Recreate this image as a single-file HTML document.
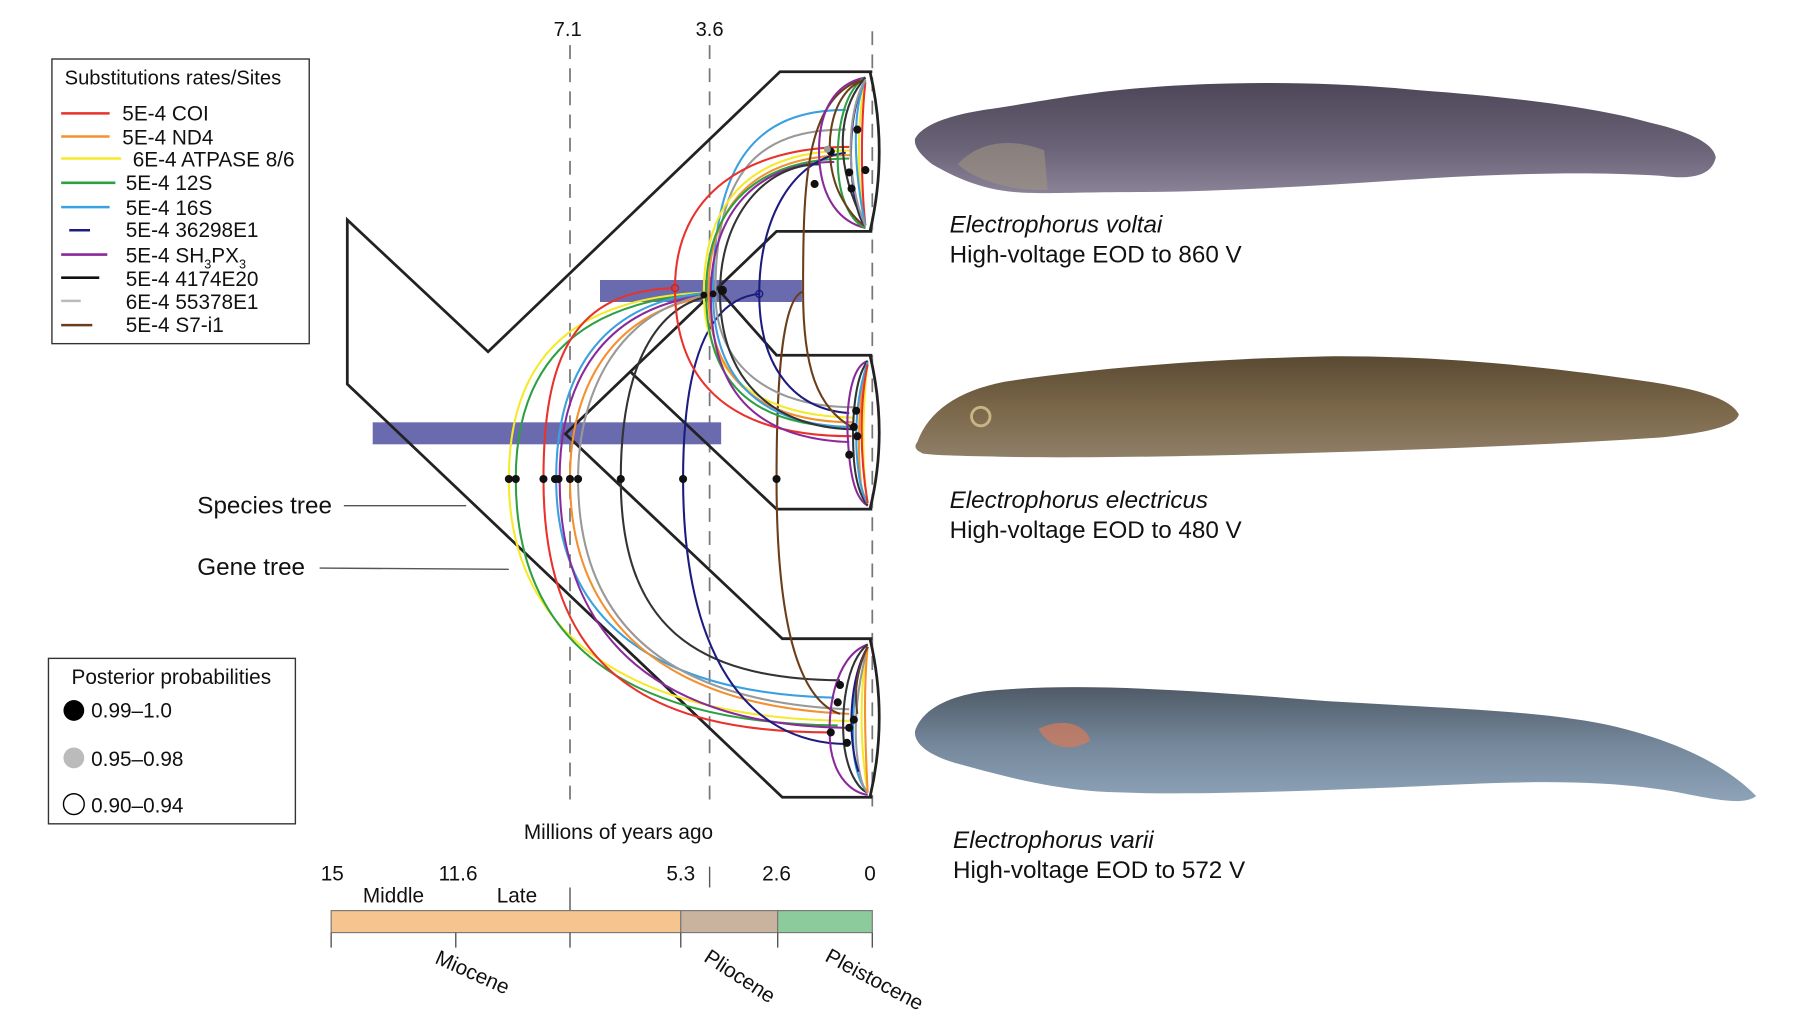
<!DOCTYPE html>
<html><head><meta charset="utf-8"><style>
html,body{margin:0;padding:0;background:#fff}
svg{display:block}
text{font-family:"Liberation Sans",sans-serif;fill:#111}
</style></head><body>
<svg width="1800" height="1024" viewBox="0 0 1560 885" preserveAspectRatio="none" xmlns="http://www.w3.org/2000/svg">
<defs>
<linearGradient id="gv" x1="0" y1="0" x2="0" y2="1"><stop offset="0" stop-color="#4d4658"/><stop offset="0.6" stop-color="#6b6478"/><stop offset="1" stop-color="#8a8296"/></linearGradient>
<linearGradient id="ge" x1="0" y1="0" x2="0" y2="1"><stop offset="0" stop-color="#5a4a33"/><stop offset="0.5" stop-color="#7a6648"/><stop offset="1" stop-color="#8f7f68"/></linearGradient>
<linearGradient id="gr" x1="0" y1="0" x2="0" y2="1"><stop offset="0" stop-color="#4f5a66"/><stop offset="0.5" stop-color="#74879b"/><stop offset="1" stop-color="#8ea3b8"/></linearGradient>
</defs>
<g transform="translate(-2,-3)">
<!-- legend 1 -->
<rect x="47" y="54" width="223" height="246" fill="#fff" stroke="#333" stroke-width="1.2"/>
<text x="58" y="76" font-size="17.5">Substitutions rates/Sites</text>
<g stroke-width="2.2">
<line x1="55" y1="101" x2="97" y2="101" stroke="#e8322b"/>
<line x1="55" y1="121" x2="97" y2="121" stroke="#f39030"/>
<line x1="55" y1="140" x2="107" y2="140" stroke="#f5ea2a"/>
<line x1="55" y1="161" x2="102" y2="161" stroke="#2ea043"/>
<line x1="55" y1="182" x2="97" y2="182" stroke="#3aa0e0"/>
<line x1="62" y1="202" x2="80" y2="202" stroke="#1c1c80"/>
<line x1="55" y1="223" x2="95" y2="223" stroke="#8a2a9a"/>
<line x1="55" y1="243" x2="88" y2="243" stroke="#111"/>
<line x1="55" y1="263" x2="72" y2="263" stroke="#bbb"/>
<line x1="55" y1="284" x2="82" y2="284" stroke="#6a3e1a"/>
</g>
<g font-size="18">
<text x="108" y="107">5E-4 COI</text>
<text x="108" y="128">5E-4 ND4</text>
<text x="117" y="147">6E-4 ATPASE 8/6</text>
<text x="111" y="167">5E-4 12S</text>
<text x="111" y="189">5E-4 16S</text>
<text x="111" y="208">5E-4 36298E1</text>
<text x="111" y="230">5E-4 SH<tspan font-size="11" dy="5">3</tspan><tspan dy="-5">PX</tspan><tspan font-size="11" dy="5">3</tspan></text>
<text x="111" y="250">5E-4 4174E20</text>
<text x="111" y="270">6E-4 55378E1</text>
<text x="111" y="290">5E-4 S7-i1</text>
</g>

<!-- legend 2 -->
<rect x="44" y="572" width="214" height="143" fill="#fff" stroke="#333" stroke-width="1.2"/>
<text x="64" y="594" font-size="18">Posterior probabilities</text>
<circle cx="66" cy="617" r="9" fill="#000"/>
<circle cx="66" cy="658" r="9" fill="#bbb"/>
<circle cx="66" cy="698" r="9" fill="#fff" stroke="#000" stroke-width="1.2"/>
<g font-size="18"><text x="81" y="623">0.99–1.0</text><text x="81" y="665">0.95–0.98</text><text x="81" y="705">0.90–0.94</text></g>

<!-- labels -->
<text x="173" y="447" font-size="21">Species tree</text>
<line x1="300" y1="440" x2="406" y2="440" stroke="#555" stroke-width="1.2"/>
<text x="173" y="500" font-size="21">Gene tree</text>
<line x1="279" y1="494" x2="443" y2="495" stroke="#555" stroke-width="1.2"/>

<!-- dashed time lines -->
<g stroke="#777" stroke-width="1.5" stroke-dasharray="12,8">
<line x1="496" y1="42" x2="496" y2="700"/>
<line x1="617" y1="42" x2="617" y2="700"/>
<line x1="758" y1="30" x2="758" y2="700"/>
</g>
<text x="494" y="34" font-size="17.5" text-anchor="middle">7.1</text>
<text x="617" y="34" font-size="17.5" text-anchor="middle">3.6</text>

<!-- purple bars -->
<rect x="522" y="245" width="175" height="19" fill="#6a6aae"/>
<rect x="325" y="368" width="302" height="19" fill="#6a6aae"/>

<!-- species tree -->
<g fill="none" stroke="#222" stroke-width="2.4" stroke-linejoin="miter">
<path d="M758,65 L678,65 L425,307 L303,193 L303,335 L680,692 L758,692"/>
<path d="M758,203 L675,203 L492,378 L680,555 L758,555"/>
<path d="M548,324 L675,443 L758,443"/>
<path d="M627,256 L675,310 L758,310"/>
<path d="M756,65 Q772,134 756,203"/>
<path d="M756,310 Q772,377 756,443"/>
<path d="M756,555 Q772,623 756,692"/>
</g>

<!-- gene tree curves -->
<g fill="none" stroke-width="1.8">
<path d="M443,417 C443,320 490,262 610,256" stroke="#f5ea2a"/>
<path d="M449,417 C449,325 495,265 612,257" stroke="#2ea043"/>
<path d="M473,417 C473,310 500,254 587,252" stroke="#e8322b"/>
<path d="M484,417 C484,330 520,265 614,256" stroke="#3aa0e0"/>
<path d="M487,417 C487,332 525,268 616,258" stroke="#8a2a9a"/>
<path d="M496,417 C496,340 530,272 618,259" stroke="#f39030"/>
<path d="M503,417 C503,340 540,268 620,257" stroke="#999"/>
<path d="M540,417 C540,320 570,265 622,258" stroke="#333"/>
<path d="M594,417 C594,330 610,262 660,257" stroke="#1c1c80"/>
<path d="M675,417 C675,330 680,260 698,255" stroke="#6a3e1a"/>
<path d="M443,417 C443,560 560,625 740,626" stroke="#f5ea2a"/>
<path d="M449,417 C449,570 560,628 728,630" stroke="#2ea043"/>
<path d="M473,417 C473,580 560,636 722,636" stroke="#e8322b"/>
<path d="M484,417 C484,540 570,602 725,606" stroke="#3aa0e0"/>
<path d="M487,417 C487,560 580,630 735,632" stroke="#8a2a9a"/>
<path d="M496,417 C496,550 590,614 738,620" stroke="#f39030"/>
<path d="M503,417 C503,550 590,610 738,616" stroke="#999"/>
<path d="M540,417 C540,540 600,590 730,591" stroke="#333"/>
<path d="M594,417 C594,570 650,645 735,646" stroke="#1c1c80"/>
<path d="M675,417 C675,560 700,610 730,620" stroke="#6a3e1a"/>
<path d="M620,256 C620,140 660,98 735,98" stroke="#3aa0e0"/>
<path d="M622,256 C622,150 660,115 735,115" stroke="#999"/>
<path d="M587,252 C587,170 650,130 738,130" stroke="#e8322b"/>
<path d="M612,256 C612,170 660,133 740,133" stroke="#f5ea2a"/>
<path d="M616,256 C616,175 660,137 740,137" stroke="#f39030"/>
<path d="M614,256 C614,180 660,140 738,140" stroke="#2ea043"/>
<path d="M618,258 C618,185 660,143 725,143" stroke="#8a2a9a"/>
<path d="M626,256 C626,190 665,145 712,145" stroke="#333"/>
<path d="M660,257 C660,190 690,140 735,135" stroke="#1c1c80"/>
<path d="M698,255 C698,160 700,90 748,72" stroke="#6a3e1a"/>
<path d="M587,252 C587,330 630,380 740,380" stroke="#e8322b"/>
<path d="M612,256 C612,320 650,362 742,364" stroke="#f5ea2a"/>
<path d="M614,256 C614,330 650,372 740,372" stroke="#2ea043"/>
<path d="M616,256 C616,330 660,368 742,368" stroke="#f39030"/>
<path d="M620,256 C620,330 660,370 738,372" stroke="#3aa0e0"/>
<path d="M618,258 C618,340 655,382 738,385" stroke="#8a2a9a"/>
<path d="M622,256 C622,320 670,355 742,355" stroke="#999"/>
<path d="M626,256 C626,330 670,372 740,374" stroke="#333"/>
<path d="M660,257 C660,320 690,357 738,360" stroke="#1c1c80"/>
<path d="M698,255 C698,320 710,355 740,372" stroke="#6a3e1a"/>
<path d="M752,70 C725,75 710,100 712,140 C714,175 730,195 752,200" stroke="#8a2a9a"/>
<path d="M752,70 C735,80 728,110 728,140 C728,175 740,195 752,200" stroke="#2ea043"/>
<path d="M752,72 C742,90 738,120 740,150 C742,180 748,195 752,198" stroke="#1c1c80"/>
<path d="M752,72 C746,100 745,140 748,170 C749,190 752,198 752,198" stroke="#f5ea2a"/>
<path d="M752,74 C748,110 748,160 752,198" stroke="#e8322b"/>
<path d="M752,72 C720,80 712,140 732,175 C740,190 750,198 752,198" stroke="#6a3e1a"/>
<path d="M752,70 C730,95 722,140 752,198" stroke="#333"/>
<path d="M752,72 C740,100 742,150 752,198" stroke="#3aa0e0"/>
<path d="M752,72 C735,100 735,160 752,198" stroke="#999"/>
<path d="M754,315 C738,320 735,360 737,385 C739,420 745,435 754,440" stroke="#8a2a9a"/>
<path d="M754,315 C742,330 740,370 742,400 C744,425 750,435 754,440" stroke="#333"/>
<path d="M754,316 C746,340 745,390 748,420 C750,432 754,438 754,438" stroke="#f39030"/>
<path d="M754,316 C750,350 748,400 754,438" stroke="#f5ea2a"/>
<path d="M754,316 C744,345 742,380 746,410 C748,430 754,438 754,438" stroke="#3aa0e0"/>
<path d="M754,318 C748,345 746,390 754,438" stroke="#e8322b"/>
<path d="M754,560 C725,570 718,620 722,650 C726,675 740,688 754,690" stroke="#8a2a9a"/>
<path d="M754,560 C735,575 730,620 734,650 C738,675 748,686 754,688" stroke="#333"/>
<path d="M754,562 C742,585 740,625 742,655 C745,678 752,686 754,688" stroke="#3aa0e0"/>
<path d="M754,562 C748,590 746,640 754,688" stroke="#f5ea2a"/>
<path d="M754,562 C744,600 740,640 748,675 C750,684 754,688 754,688" stroke="#999"/>
<path d="M754,562 C750,600 752,650 754,688" stroke="#f39030"/>
<path d="M754,562 C738,590 736,640 746,670" stroke="#1c1c80"/>
<path d="M754,562 C745,580 742,600 745,620" stroke="#6a3e1a"/>
</g>

<g fill="#111">
<circle cx="443" cy="417" r="3.5"/><circle cx="449" cy="417" r="3.5"/><circle cx="473" cy="417" r="3.5"/>
<circle cx="483" cy="417" r="3.5"/><circle cx="486" cy="417" r="3.5"/><circle cx="496" cy="417" r="3.5"/>
<circle cx="503" cy="417" r="3.5"/><circle cx="540" cy="417" r="3.5"/><circle cx="594" cy="417" r="3.5"/>
<circle cx="675" cy="417" r="3.5"/>
<circle cx="628" cy="254" r="4"/><circle cx="620" cy="257" r="3"/><circle cx="612" cy="258" r="3"/>
<circle cx="745" cy="115" r="3.5"/><circle cx="722" cy="134" r="3.5"/><circle cx="738" cy="152" r="3.5"/><circle cx="752" cy="150" r="3.5"/><circle cx="740" cy="166" r="3.5"/><circle cx="708" cy="162" r="3.5"/>
<circle cx="744" cy="358" r="3.5"/><circle cx="742" cy="372" r="3.5"/><circle cx="745" cy="380" r="3.5"/><circle cx="738" cy="396" r="3.5"/>
<circle cx="730" cy="595" r="3.5"/><circle cx="728" cy="610" r="3.5"/><circle cx="742" cy="625" r="3.5"/><circle cx="738" cy="632" r="3.5"/><circle cx="722" cy="636" r="3.5"/><circle cx="736" cy="645" r="3.5"/>
</g>
<circle cx="587" cy="252" r="3" fill="none" stroke="#c22" stroke-width="1.2"/>
<circle cx="660" cy="257" r="3" fill="none" stroke="#1c1c80" stroke-width="1.2"/>
<circle cx="719" cy="132" r="3" fill="#999"/>

<!-- timescale -->
<text x="538" y="728" font-size="18" text-anchor="middle">Millions of years ago</text>
<g font-size="18" text-anchor="middle">
<text x="290" y="764">15</text><text x="399" y="764">11.6</text><text x="592" y="764">5.3</text><text x="675" y="764">2.6</text><text x="756" y="764">0</text>
<text x="343" y="783">Middle</text><text x="450" y="783">Late</text>
</g>
<line x1="617" y1="752" x2="617" y2="770" stroke="#555" stroke-width="1.2"/>
<line x1="496" y1="770" x2="496" y2="790" stroke="#555" stroke-width="1.2"/>
<rect x="289" y="790" width="303" height="19" fill="#f5c48f" stroke="#777" stroke-width="1"/>
<rect x="592" y="790" width="84" height="19" fill="#c9b39f" stroke="#777" stroke-width="1"/>
<rect x="676" y="790" width="82" height="19" fill="#8ccc9c" stroke="#777" stroke-width="1"/>
<g stroke="#555" stroke-width="1.2">
<line x1="289" y1="809" x2="289" y2="822"/><line x1="397" y1="809" x2="397" y2="822"/><line x1="496" y1="809" x2="496" y2="822"/>
<line x1="592" y1="809" x2="592" y2="822"/><line x1="676" y1="809" x2="676" y2="822"/><line x1="758" y1="809" x2="758" y2="822"/>
</g>
<g font-size="18">
<text transform="translate(378,835) rotate(24)">Miocene</text>
<text transform="translate(611,833) rotate(33)">Pliocene</text>
<text transform="translate(716,833) rotate(28)">Pleistocene</text>
</g>
</g>

<!-- eels -->
<path d="M793,120 C800,106 830,98 860,94 C900,88 940,80 990,76 C1060,70 1150,70 1230,78 C1310,84 1380,92 1430,106 C1465,114 1485,124 1487,136 C1484,150 1470,156 1440,152 C1380,148 1310,150 1240,154 C1150,160 1060,166 980,166 C930,166 900,168 880,166 C850,164 825,152 808,142 C798,134 792,127 793,120 Z" fill="url(#gv)"/>
<path d="M830,142 C850,160 890,166 908,164 L905,130 C880,120 850,120 830,142 Z" fill="#9e9380" opacity="0.6"/>
<path d="M795,382 C805,355 830,338 870,330 C950,318 1050,310 1150,308 C1250,307 1350,318 1430,330 C1475,337 1500,345 1507,358 C1505,368 1480,374 1440,378 C1350,384 1250,388 1150,391 C1050,394 950,396 880,395 C845,394 815,394 800,392 C793,389 792,386 795,382 Z" fill="url(#ge)"/>
<circle cx="850" cy="360" r="8" fill="none" stroke="#c9b482" stroke-width="2.5"/>
<path d="M793,632 C800,610 830,598 870,596 C950,590 1050,598 1150,606 C1250,612 1340,614 1400,628 C1450,640 1495,660 1522,688 C1512,696 1490,692 1450,684 C1380,672 1300,676 1220,680 C1120,684 1020,688 950,684 C900,680 860,668 830,660 C805,653 792,643 793,632 Z" fill="url(#gr)"/>
<path d="M900,630 C920,620 940,625 945,640 C930,650 910,648 900,630 Z" fill="#d87a5a" opacity="0.7"/>

<g font-size="21">
<text x="823" y="201" font-style="italic">Electrophorus voltai</text>
<text x="823" y="227">High-voltage EOD to 860 V</text>
<text x="823" y="439" font-style="italic">Electrophorus electricus</text>
<text x="823" y="465">High-voltage EOD to 480 V</text>
<text x="826" y="733" font-style="italic">Electrophorus varii</text>
<text x="826" y="759">High-voltage EOD to 572 V</text>
</g>
</svg>
</body></html>
